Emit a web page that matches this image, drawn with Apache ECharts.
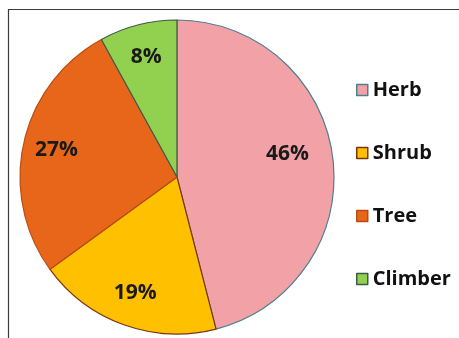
<!DOCTYPE html>
<html>
<head>
<meta charset="utf-8">
<script src="https://cdn.jsdelivr.net/npm/echarts@6/dist/echarts.min.js"></script>
<style>
  html, body { margin: 0; padding: 0; background: #fff; }
  #chart { width: 459px; height: 338px; }
</style>
</head>
<body>
<div id="chart"></div>
<script>
// Growth-form share of recorded plant species
const categories = ['Herb', 'Shrub', 'Tree', 'Climber'];
const shares = [46, 19, 27, 8];
const fillColors = ['#F2A2A6', '#FFC000', '#E8661A', '#92D050'];
const edgeColors = ['#4E7F8E', '#7A3510', '#B94E14', '#3C5A4A'];

const sliceData = categories.map((name, i) => ({
  name: name,
  value: shares[i],
  itemStyle: { color: fillColors[i], borderColor: edgeColors[i] }
}));

// the large slice's label sits a little further in and up
const labelData = categories.map((name, i) => ({
  name: name,
  value: shares[i],
  label: i === 0 ? { offset: [-12, -8] } : {}
}));

const chart = echarts.init(document.getElementById('chart'), null, { renderer: 'canvas' });

chart.setOption({
  backgroundColor: '#ffffff',
  animation: false,
  graphic: [{
    type: 'rect',
    shape: { x: 8.5, y: 9.5, width: 600, height: 500 },
    style: { fill: 'none', stroke: '#3a3a3a', lineWidth: 1.2 },
    silent: true,
    z: -10
  }],
  legend: {
    orient: 'vertical',
    left: 351,
    top: 75,
    itemWidth: 11,
    itemHeight: 11,
    itemGap: 43,
    icon: 'rect',
    data: categories,
    textStyle: {
      fontFamily: 'Open Sans',
      fontWeight: 'bold',
      fontSize: 20,
      lineHeight: 20,
      color: '#111',
      padding: [0, 0, 0, 0]
    },
    itemStyle: { borderWidth: 1.5 }
  },
  series: [
    {
      type: 'pie',
      center: [177, 177],
      radius: [0, 157],
      startAngle: 90,
      clockwise: true,
      silent: true,
      data: sliceData,
      itemStyle: { borderWidth: 1.2 },
      label: { show: false },
      labelLine: { show: false }
    },
    {
      // label ring: places the percentages at ~0.77 of the radius
      type: 'pie',
      center: [177, 177],
      radius: [84, 157],
      startAngle: 90,
      clockwise: true,
      silent: true,
      legendHoverLink: false,
      data: labelData,
      itemStyle: { color: 'rgba(0,0,0,0)', borderWidth: 0 },
      label: {
        show: true,
        position: 'inside',
        formatter: '{c}%',
        fontFamily: 'Open Sans',
        fontWeight: 'bold',
        fontSize: 21,
        color: '#1a1a1a'
      },
      labelLine: { show: false },
      emphasis: { disabled: true }
    }
  ]
});
</script>
</body>
</html>
